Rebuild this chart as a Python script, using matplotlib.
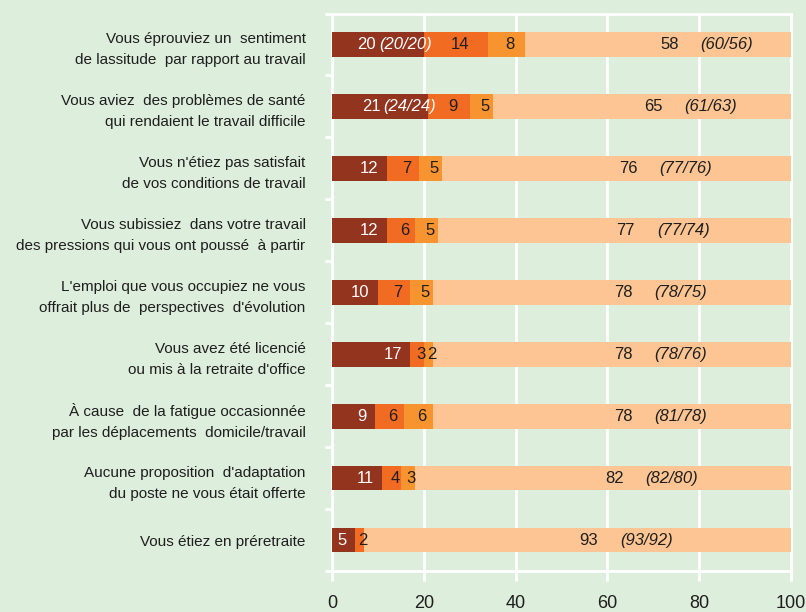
import matplotlib
matplotlib.use("Agg")
import matplotlib.pyplot as plt
import numpy as np

## DATA
labels = [
    "Vous éprouviez un  sentiment\nde lassitude  par rapport au travail",
    "Vous aviez  des problèmes de santé\nqui rendaient le travail difficile",
    "Vous n'étiez pas satisfait\nde vos conditions de travail",
    "Vous subissiez  dans votre travail\ndes pressions qui vous ont poussé  à partir",
    "L'emploi que vous occupiez ne vous\noffrait plus de  perspectives  d'évolution",
    "Vous avez été licencié\nou mis à la retraite d'office",
    "À cause  de la fatigue occasionnée\npar les déplacements  domicile/travail",
    "Aucune proposition  d'adaptation\ndu poste ne vous était offerte",
    "Vous étiez en préretraite",
]
# shares in % (labels are the rounded values)
seg1 = [20, 21, 12, 12, 10, 17, 9.3, 11, 5]
seg2 = [14, 9, 7, 6, 7, 3, 6.3, 4, 2]
seg3 = [8, 5, 5, 5, 5, 2, 6.3, 3, 0]
seg4 = [58, 65, 76, 77, 78, 78, 78.1, 82, 93]
seg1_note = ["(20/20)", "(24/24)", "", "", "", "", "", "", ""]
seg4_note = ["(60/56)", "(61/63)", "(77/76)", "(77/74)", "(78/75)",
             "(78/76)", "(81/78)", "(82/80)", "(93/92)"]
xticks = [0, 20, 40, 60, 80, 100]

## STYLE
bg = "#deeedc"
colors = ["#93341f", "#f26b22", "#f7942f", "#fdc593"]
plt.rcParams["font.family"] = ["Liberation Sans", "DejaVu Sans"]
txt = "#1e1e1e"

fig = plt.figure(figsize=(8.06, 6.12), dpi=100, facecolor=bg)
ax = fig.add_axes([332 / 806, 1 - 571 / 612, (791 - 332) / 806, (571 - 13.5) / 612])
ax.set_facecolor(bg)

y = np.arange(len(labels))
segs = [seg1, seg2, seg3, seg4]
left = np.zeros(len(labels))
for i, s in enumerate(segs):
    ax.barh(y, s, left=left, height=0.40, color=colors[i], zorder=3)
    for j, v in enumerate(s):
        if v == 0:
            continue
        end = left[j] + v
        lab = str(int(round(v)))
        if i == 0:
            if seg1_note[j]:
                ax.text(end - 4.0, y[j], seg1_note[j], ha="center", va="center",
                        color="white", fontsize=12, style="italic", zorder=4)
                ax.text(end - 12.5, y[j], lab, ha="center", va="center",
                        color="white", fontsize=12, zorder=4)
            else:
                ax.text(end - 1.8, y[j], lab, ha="right", va="center",
                        color="white", fontsize=12, zorder=4)
        elif i == 3:
            xc = left[j] + v / 2 + 2.5
            ax.text(xc, y[j], lab, ha="center", va="center",
                    color=txt, fontsize=12, zorder=4)
            ax.text(xc + 12.5, y[j], seg4_note[j], ha="center", va="center",
                    color=txt, fontsize=12, style="italic", zorder=4)
        else:
            ax.text(left[j] + v / 2 + 0.8, y[j], lab, ha="center", va="center",
                    color=txt, fontsize=12, zorder=4)
    left += np.array(s)

ax.set_xlim(0, 100)
ax.set_ylim(len(labels) - 0.5, -0.5)
ax.set_xticks(xticks)
ax.set_xticklabels([str(t) for t in xticks], fontsize=13, color=txt)
ax.tick_params(axis="x", length=7, width=2, color="white", pad=10)

ax.set_yticks(y)
ax.set_yticklabels(labels, fontsize=11, color=txt, linespacing=1.65)
ax.tick_params(axis="y", which="major", length=0, pad=19)
ax.set_yticks(np.arange(-0.5, len(labels)), minor=True)
ax.tick_params(axis="y", which="minor", length=5, width=2, color="white")

ax.grid(axis="x", color="white", linewidth=2, zorder=1)
for sp in ax.spines.values():
    sp.set_color("white")
    sp.set_linewidth(2)

fig.savefig("out.png", dpi=100, facecolor=bg)
